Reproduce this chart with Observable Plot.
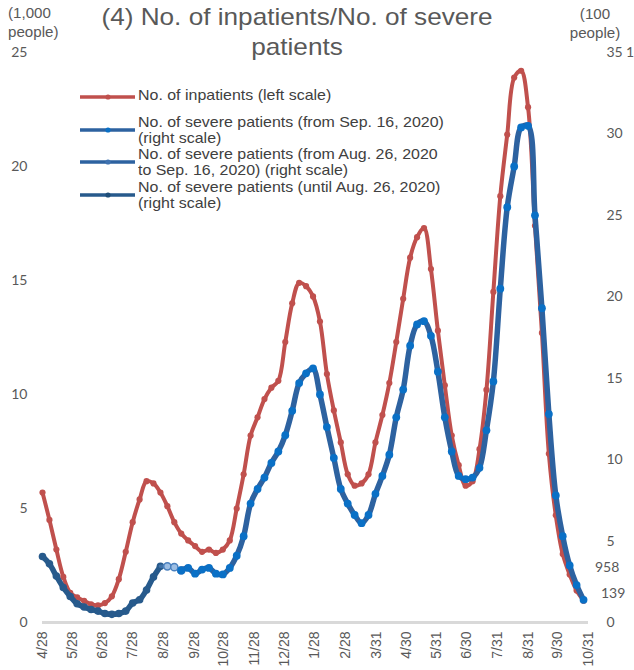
<!DOCTYPE html>
<html><head><meta charset="utf-8">
<script src="https://cdn.jsdelivr.net/npm/d3@7"></script>
<script src="https://cdn.jsdelivr.net/npm/@observablehq/plot@0.6"></script>
<style>
body{margin:0;background:#fff;}
#wrap{position:relative;width:634px;height:670px;overflow:hidden;font-family:"Liberation Sans",Arial,sans-serif;color:#595959;background:#fff;}
#wrap > svg{position:absolute;left:0;top:0;}
.abs{position:absolute;white-space:nowrap;}
.num{font-family:Lato,"Open Sans",sans-serif;font-size:14px;color:#595959;}
</style></head><body><div id="wrap"></div>
<script>
// weekly series starting at this date
const startDate = "2020-04-28";
// No. of inpatients (thousand people, left scale)
const inpatients = [5.7,4.5,3.2,2.0,1.3,1.1,0.95,0.8,0.75,0.85,1.15,1.9,3.1,4.4,5.4,6.2,6.1,5.7,5.1,4.4,
  3.9,3.6,3.35,3.1,3.2,3.05,3.2,3.6,5.0,6.5,8.2,9.0,9.8,10.3,10.6,12.3,14.0,14.9,14.75,14.3,
  13.2,10.9,9.3,7.9,6.5,6.0,6.1,6.5,7.9,9.1,10.5,12.3,14.2,16.0,16.9,17.3,15.5,12.8,10.4,8.2,
  6.9,6.0,6.2,7.6,10.2,14.5,18.7,21.4,23.9,24.2,22.6,17.4,12.7,7.4,4.7,3.0,2.1,1.4,0.958];
// No. of severe patients (hundred people, right scale)
const severe = [4.05,3.6,2.85,2.15,1.6,1.15,0.95,0.8,0.7,0.55,0.5,0.55,0.7,1.2,1.4,2.0,2.8,3.45,3.45,3.4,
  3.2,3.35,3.0,3.25,3.35,3.0,2.95,3.35,4.1,5.3,7.3,8.2,8.9,9.8,10.5,11.5,13.0,14.7,15.3,15.6,
  14.0,12.0,10.1,8.2,7.3,6.6,6.1,6.6,7.9,9.0,10.3,12.6,14.3,17.0,18.3,18.5,17.6,15.4,12.6,10.5,
  9.0,8.8,8.9,9.5,11.8,14.8,20.5,25.5,28.0,30.4,30.5,25.0,19.3,12.8,7.8,5.3,3.5,2.3,1.39];
// definition periods of severe patients
const severeUntil = "2020-08-26";
const severeFrom = "2020-09-16";
// axis ticks
const xTicks = ["2020-04-28","2020-05-28","2020-06-28","2020-07-28","2020-08-28","2020-09-28","2020-10-28",
  "2020-11-28","2020-12-28","2021-01-28","2021-02-28","2021-03-31","2021-04-30","2021-05-31","2021-06-30",
  "2021-07-31","2021-08-31","2021-09-30","2021-10-31"];
const leftTicks = [0,5,10,15,20,25];
const rightTicks = [0,5,10,15,20,25,30,35];
const legendLabels = [
  "No. of inpatients (left scale)",
  "No. of severe patients (from Sep. 16, 2020)<br>(right scale)",
  "No. of severe patients (from Aug. 26, 2020<br>to Sep. 16, 2020) (right scale)",
  "No. of severe patients (until Aug. 26, 2020)<br>(right scale)"
];
const endLabels = ["958","139"];

const RATIO = 25/35;
const t0 = new Date(startDate);
const dateOf = i => d3.utcDay.offset(t0, 7*i);
const red = inpatients.map((v,i)=>({date:dateOf(i), v}));
const blue = severe.map((v,i)=>({date:dateOf(i), v: v*RATIO}));
const u = new Date(severeUntil), f = new Date(severeFrom);
const seg1 = blue.filter(d=>d.date<=u);
const seg2 = blue.filter(d=> d.date>=d3.utcDay.offset(u,-7) && d.date<=f);
const seg3 = blue.filter(d=>d.date>=d3.utcDay.offset(f,-1));
const seg2dots = blue.filter(d=>d.date>u && d.date<f);
const seg3dots = blue.filter(d=>d.date>=d3.utcDay.offset(f,-1));

const RED="#C0504D", BLUE="#2D62A0", BLUEDOT="#0A70C6", DARK="#275A8C";
const tickFont = "Lato, 'Open Sans', sans-serif";

const chart = Plot.plot({
  width:634, height:670,
  marginTop:52, marginBottom:48, marginLeft:42, marginRight:46,
  style:{color:"#595959", background:"transparent"},
  x:{type:"utc", domain:[new Date("2020-04-28"), new Date("2021-10-31")]},
  y:{domain:[0,25]},
  marks:[
    Plot.ruleY([0],{stroke:"#D9D9D9", strokeWidth:3}),
    Plot.axisY({anchor:"left", ticks:leftTicks, tickSize:0, tickPadding:15, label:null, fontSize:14, fontFamily:tickFont}),
    Plot.axisY({anchor:"right", ticks:rightTicks.map(v=>v*RATIO), tickFormat:v=>String(Math.round(v/RATIO)), tickSize:0, tickPadding:18, textAnchor:"start", label:null, fontSize:14, fontFamily:tickFont}),
    Plot.axisX({ticks:xTicks.map(s=>new Date(s)), tickFormat:d=>`${d.getUTCMonth()+1}/${d.getUTCDate()}`, tickRotate:-90, tickSize:0, tickPadding:9, label:null, fontSize:14, fontFamily:"'Liberation Sans', Arial, sans-serif"}),
    Plot.line(red,{x:"date", y:"v", stroke:RED, strokeWidth:4, curve:"catmull-rom"}),
    Plot.dot(red,{x:"date", y:"v", fill:RED, r:3.1}),
    Plot.line(seg1,{x:"date", y:"v", stroke:DARK, strokeWidth:5.5, curve:"catmull-rom"}),
    Plot.dot(seg1,{x:"date", y:"v", fill:DARK, r:3.8}),
    Plot.line(seg2,{x:"date", y:"v", stroke:"#3F72A8", strokeWidth:3.5, curve:"catmull-rom"}),
    Plot.dot(seg2dots,{x:"date", y:"v", fill:"#9DBEE3", stroke:"#4A80BE", strokeWidth:1.5, r:3.6}),
    Plot.line(seg3,{x:"date", y:"v", stroke:BLUE, strokeWidth:5.5, curve:"catmull-rom"}),
    Plot.dot(seg3dots,{x:"date", y:"v", fill:BLUEDOT, r:3.9})
  ]
});
const wrap = document.getElementById("wrap");
wrap.appendChild(chart);

function addDiv(html, css, cls="abs"){
  const d=document.createElement("div"); d.className=cls; d.innerHTML=html; d.style.cssText=css; wrap.appendChild(d); return d;
}
// title
addDiv("(4) No. of inpatients/No. of severe<br>patients","left:0;top:2px;width:594px;text-align:center;font-size:24px;line-height:30px;color:#595959;transform:scaleX(1.09);transform-origin:297px 0;");
// unit labels
addDiv("(1,000<br>people)","left:8px;top:4px;font-size:14px;line-height:19px;color:#595959;transform:scaleX(1.08);transform-origin:0 0;");
addDiv("(100<br>people)","left:566px;top:5px;width:58px;text-align:center;font-size:14px;line-height:19px;color:#595959;transform:scaleX(1.08);transform-origin:29px 0;");
addDiv("1","left:626px;top:43px;", "abs num");
// end labels
addDiv(endLabels[0],"left:595px;top:558px;", "abs num");
addDiv(endLabels[1],"left:601px;top:584px;", "abs num");

// legend
const legTop=[88,115,147,180];
const legLine=[97,130,162,195];
const legColors=[[RED,RED],[BLUE,BLUEDOT],[BLUE,"#3F72B0"],[DARK,"#1F4E79"]];
const ns="http://www.w3.org/2000/svg";
const lsvg=document.createElementNS(ns,"svg");
lsvg.setAttribute("width",634); lsvg.setAttribute("height",670);
lsvg.style.cssText="position:absolute;left:0;top:0;";
legendLabels.forEach((lab,k)=>{
  const ln=document.createElementNS(ns,"line");
  ln.setAttribute("x1",80);ln.setAttribute("x2",135);ln.setAttribute("y1",legLine[k]);ln.setAttribute("y2",legLine[k]);
  ln.setAttribute("stroke",legColors[k][0]);ln.setAttribute("stroke-width",3.5);
  lsvg.appendChild(ln);
  const c=document.createElementNS(ns,"circle");
  c.setAttribute("cx",108);c.setAttribute("cy",legLine[k]);c.setAttribute("r",2.6);c.setAttribute("fill",legColors[k][1]);
  lsvg.appendChild(c);
  addDiv(lab,`left:138px;top:${legTop[k]}px;font-size:14.5px;line-height:15.5px;color:#404040;transform:scaleX(1.1);transform-origin:0 0;`);
});
wrap.appendChild(lsvg);
</script></body></html>
